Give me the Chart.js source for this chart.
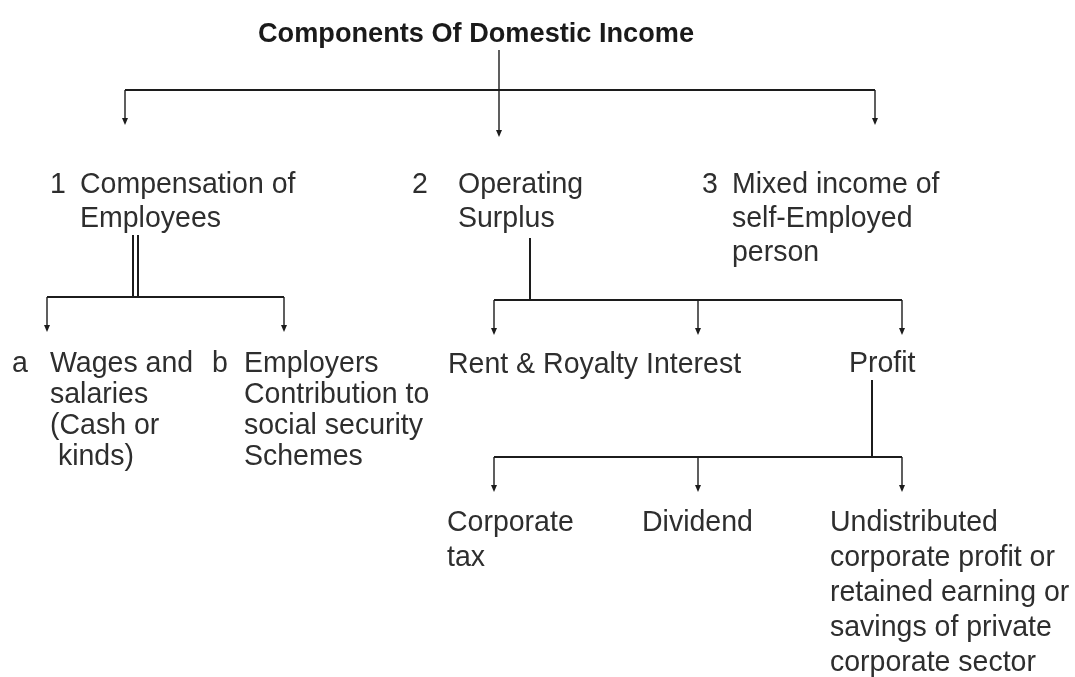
<!DOCTYPE html>
<html>
<head>
<meta charset="utf-8">
<script src="https://cdn.jsdelivr.net/npm/chart.js@4/dist/chart.umd.min.js"></script>
<style>
html,body{margin:0;padding:0;background:#ffffff;overflow:hidden}
#wrap{position:relative;width:1075px;height:677px}
</style>
</head>
<body>
<div id="wrap"><canvas id="c" width="1075" height="677"></canvas></div>
<script>
// ---- diagram content ----
const titleText = 'Components Of Domestic Income';

const labelTexts = [
  ['1'], ['Compensation of', 'Employees'],
  ['2'], ['Operating', 'Surplus'],
  ['3'], ['Mixed income of', 'self-Employed', 'person'],
  ['a'], ['Wages and', 'salaries', '(Cash or', ' kinds)'],
  ['b'], ['Employers', 'Contribution to', 'social security', 'Schemes'],
  ['Rent & Royalty Interest'], ['Profit'],
  ['Corporate', 'tax'], ['Dividend'],
  ['Undistributed', 'corporate profit or', 'retained earning or', 'savings of private', 'corporate sector']
];
// anchor of first line (left x, baseline y) in diagram units
const labelX = [50, 80, 412, 458, 702, 732, 12, 50, 212, 244, 448, 849, 447, 642, 830];
const labelY = [193, 193, 193, 193, 193, 193, 372, 372, 372, 372, 373, 372, 531, 531, 531];
const labelGap = [34, 34, 34, 34, 34, 34, 31, 31, 31, 31, 31, 31, 35, 35, 35];

// connector lines: [x1, y1, x2, y2]
const barLines = [
  [125, 90, 875, 90],     // level 1 bar
  [133, 235, 133, 297],   // compensation double stem
  [138, 235, 138, 297],
  [47, 297, 284, 297],    // compensation bar
  [530, 238, 530, 300],   // surplus stem
  [494, 300, 902, 300],   // surplus bar
  [872, 380, 872, 457],   // profit stem
  [494, 457, 902, 457]    // profit bar
];
// arrows: [x, yFrom, yTip]
const arrowLines = [
  [499, 50, 137],
  [125, 90, 125], [875, 90, 125],
  [47, 297, 332], [284, 297, 332],
  [494, 300, 335], [698, 300, 335], [902, 300, 335],
  [494, 457, 492], [698, 457, 492], [902, 457, 492]
];

// ---- build chart ----
const INK = '#1c1c1c';
const TEXT = '#2e2e2e';
const datasets = [];
barLines.forEach(s => datasets.push({
  data: [{x: s[0], y: s[1]}, {x: s[2], y: s[3]}],
  showLine: true, borderColor: INK, borderWidth: 2, pointRadius: 0,
  fill: false, tension: 0, clip: false
}));
arrowLines.forEach(a => datasets.push({
  data: [{x: a[0], y: a[1]}, {x: a[0], y: a[2] - 4}],
  showLine: true, borderColor: INK, borderWidth: 1.4, pointRadius: 0,
  fill: false, tension: 0, clip: false
}));

const arrowHeads = {
  id: 'arrowHeads',
  afterDatasetsDraw(chart) {
    const {ctx, scales: {x, y}} = chart;
    ctx.save();
    ctx.fillStyle = INK;
    arrowLines.forEach(a => {
      const px = x.getPixelForValue(a[0]);
      const py = y.getPixelForValue(a[2]);
      ctx.beginPath();
      ctx.moveTo(px, py);
      ctx.lineTo(px - 3, py - 7);
      ctx.lineTo(px + 3, py - 7);
      ctx.closePath();
      ctx.fill();
    });
    ctx.restore();
  }
};

const textLabels = {
  id: 'textLabels',
  afterDraw(chart) {
    const {ctx, scales: {x, y}} = chart;
    ctx.save();
    ctx.textBaseline = 'alphabetic';
    // title
    ctx.fillStyle = '#1a1a1a';
    ctx.font = 'bold 28px "Liberation Sans", Arial, sans-serif';
    ctx.textAlign = 'center';
    ctx.save();
    ctx.translate(x.getPixelForValue(476), y.getPixelForValue(42));
    ctx.scale(0.97, 1);
    ctx.fillText(titleText, 0, 0);
    ctx.restore();
    // labels
    ctx.fillStyle = TEXT;
    ctx.font = '30px "Liberation Sans", Arial, sans-serif';
    ctx.textAlign = 'left';
    labelTexts.forEach((lines, i) => {
      lines.forEach((t, k) => {
        ctx.save();
        ctx.translate(x.getPixelForValue(labelX[i]), y.getPixelForValue(labelY[i] + k * labelGap[i]));
        ctx.scale(0.95, 1);
        ctx.fillText(t, 0, 0);
        ctx.restore();
      });
    });
    ctx.restore();
  }
};

new Chart(document.getElementById('c'), {
  type: 'scatter',
  data: {datasets},
  options: {
    responsive: false,
    animation: false,
    events: [],
    layout: {padding: 0},
    plugins: {legend: {display: false}, tooltip: {enabled: false}, title: {display: false}},
    scales: {
      x: {type: 'linear', min: 0, max: 1075, display: false},
      y: {type: 'linear', min: 0, max: 677, reverse: true, display: false}
    }
  },
  plugins: [arrowHeads, textLabels]
});
</script>
</body>
</html>
